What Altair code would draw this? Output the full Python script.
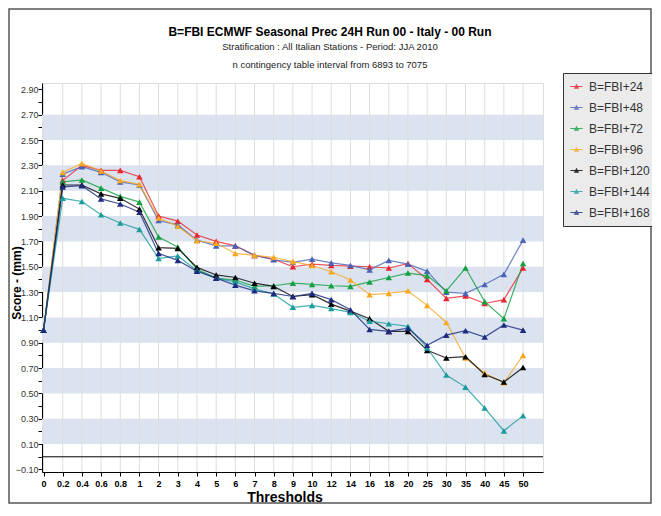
import altair as alt
import pandas as pd

THRESHOLDS = ["0", "0.2", "0.4", "0.6", "0.8", "1", "2", "3", "4", "5", "6", "7", "8",
              "9", "10", "12", "14", "16", "18", "20", "25", "30", "35", "40", "45", "50"]

SERIES = ["B=FBI+24", "B=FBI+48", "B=FBI+72", "B=FBI+96", "B=FBI+120", "B=FBI+144", "B=FBI+168"]
COLORS = ["#e8262d", "#4a63b5", "#12a040", "#f7a823", "#000000", "#1a9c9c", "#1c2a80"]

FBI24 = [1.00, 2.18, 2.30, 2.26, 2.26, 2.21, 1.90, 1.86, 1.75, 1.70, 1.665, 1.59, 1.56,
         1.50, 1.52, 1.51, 1.505, 1.50, 1.49, 1.525, 1.40, 1.25, 1.27, 1.21, 1.24, 1.49]
FBI48 = [1.00, 2.23, 2.29, 2.245, 2.17, 2.145, 1.865, 1.83, 1.71, 1.665, 1.665, 1.59, 1.555,
         1.535, 1.56, 1.53, 1.51, 1.475, 1.55, 1.52, 1.465, 1.30, 1.29, 1.36, 1.44, 1.71]
FBI72 = [1.00, 2.17, 2.185, 2.12, 2.055, 2.01, 1.735, 1.655, 1.48, 1.41, 1.395, 1.345, 1.35,
         1.37, 1.36, 1.35, 1.345, 1.38, 1.415, 1.45, 1.43, 1.31, 1.49, 1.225, 1.09, 1.525]
FBI96 = [1.00, 2.245, 2.315, 2.255, 2.18, 2.15, 1.885, 1.82, 1.705, 1.685, 1.605, 1.59, 1.575,
         1.54, 1.51, 1.46, 1.395, 1.28, 1.29, 1.31, 1.195, 1.06, 0.78, 0.66, 0.585, 0.80]
FBI120 = [1.00, 2.145, 2.145, 2.075, 2.04, 1.955, 1.65, 1.645, 1.495, 1.435, 1.415, 1.37, 1.345,
          1.265, 1.28, 1.205, 1.15, 1.09, 0.99, 0.99, 0.84, 0.78, 0.79, 0.65, 0.59, 0.705]
FBI144 = [1.00, 2.04, 2.015, 1.91, 1.845, 1.795, 1.565, 1.585, 1.47, 1.41, 1.38, 1.325, 1.285,
          1.18, 1.195, 1.17, 1.14, 1.07, 1.05, 1.03, 0.86, 0.645, 0.55, 0.385, 0.205, 0.325]
FBI168 = [1.00, 2.13, 2.14, 2.035, 1.995, 1.93, 1.605, 1.55, 1.465, 1.41, 1.355, 1.31, 1.29,
          1.265, 1.29, 1.24, 1.16, 1.005, 0.99, 1.015, 0.88, 0.96, 0.995, 0.945, 1.04, 1.00]

BAND_LO = [0.1, 0.5, 0.9, 1.3, 1.7, 2.1, 2.5]

TITLE = "B=FBI  ECMWF Seasonal Prec 24H Run 00 - Italy - 00 Run"
SUBTITLE_1 = "Stratification : All Italian Stations - Period: JJA 2010"
SUBTITLE_2 = "n contingency table interval from 6893 to 7075"
Y_TITLE = "Score - (mm)"
X_TITLE = "Thresholds"

rows = []
for name, vals in zip(SERIES, [FBI24, FBI48, FBI72, FBI96, FBI120, FBI144, FBI168]):
    for i, (t, v) in enumerate(zip(THRESHOLDS, vals)):
        rows.append({"series": name, "idx": i, "threshold": t, "value": v})
df = pd.DataFrame(rows)

band_df = pd.DataFrame({"lo": BAND_LO, "hi": [round(b + 0.2, 2) for b in BAND_LO]})
grid_df = pd.DataFrame({"idx": list(range(len(THRESHOLDS)))})
zero_df = pd.DataFrame({"z": [0.0]})
one_df = pd.DataFrame({"a": [0]})

W, H = 501, 389
PAD_L, PAD_T, PAD_R, PAD_B = 34, 75, 109, 32
NARROW = "Liberation Sans Narrow, Liberation Sans, Arial, sans-serif"
SANS = "Liberation Sans, Arial, sans-serif"

x_scale = alt.Scale(domain=[-0.08, 26.04], nice=False, zero=False)
y_scale = alt.Scale(domain=[-0.12, 2.95], nice=False, zero=False)

label_expr = "[" + ",".join("'%s'" % t for t in THRESHOLDS) + "][datum.value]"
y_values = [round(-0.1 + 0.1 * k, 2) for k in range(31)]

x_axis = alt.Axis(values=list(range(len(THRESHOLDS))), labelExpr=label_expr, title=None,
                  grid=False, domainColor="#000000", tickColor="#000000", tickSize=4,
                  labelFont=NARROW, labelFontWeight="bold", labelFontSize=9, labelColor="#000000",
                  labelPadding=3, labelAlign="center", labelOverlap=False)
y_axis = alt.Axis(values=y_values,
                  labelExpr="abs(round(datum.value*10))%2==1 ? format(datum.value,'.2f') : ''",
                  title=None, grid=False, domainColor="#000000", tickColor="#000000",
                  tickSize=4, labelFont=SANS, labelFontSize=9, labelColor="#333333",
                  labelPadding=0, labelOverlap=False)


def xenc(field):
    return alt.X(field, type="quantitative", scale=x_scale, axis=x_axis)


def yenc(field):
    return alt.Y(field, type="quantitative", scale=y_scale, axis=y_axis)


color_scale = alt.Scale(domain=SERIES, range=COLORS)

legend = alt.Legend(title=None, orient="none", legendX=521, legendY=-10,
                    fillColor="#ebebeb", strokeColor="#333333", padding=7,
                    symbolType="M-1,-0.07H1V0.07H-1Z M-0.45,0.38L0,-0.45L0.45,0.38Z",
                    symbolSize=150, symbolStrokeWidth=0, labelFont=SANS, labelFontSize=12,
                    labelColor="#333333", rowPadding=8, labelOffset=6)
color = alt.Color("series:N", scale=color_scale, sort=SERIES, legend=legend)

bands = alt.Chart(band_df).mark_rect(color="#dbe3f1").encode(
    x=alt.value(0), x2=alt.value(W), y=yenc("lo"), y2="hi:Q")

vgrid = alt.Chart(grid_df).mark_rule(color="#dddddd", strokeWidth=1).encode(x=xenc("idx"))

zero = alt.Chart(zero_df).mark_rule(color="#000000", strokeWidth=1).encode(y=yenc("z"))

lines = alt.Chart(df).mark_line(strokeWidth=1.2, opacity=0.8).encode(
    x=xenc("idx"), y=yenc("value"), color=color, detail="series:N")

points = alt.Chart(df).mark_point(filled=True, shape="triangle-up", size=42, opacity=1).encode(
    x=xenc("idx"), y=yenc("value"), color=color)

frame = alt.Chart(one_df).mark_rect(fillOpacity=0, stroke="#555555", strokeWidth=1.5).encode(
    x=alt.value(-PAD_L + 1), x2=alt.value(W + PAD_R - 1),
    y=alt.value(-PAD_T + 1), y2=alt.value(H + PAD_B - 1))


def text_layer(txt, x, y, size, weight="normal", font=SANS, color="#000000", angle=0,
               baseline="middle"):
    return alt.Chart(pd.DataFrame({"t": [txt]})).mark_text(
        font=font, fontSize=size, fontWeight=weight, color=color, align="center",
        baseline=baseline, angle=angle).encode(
        text="t:N", x=alt.value(x), y=alt.value(y))


title_main = text_layer(TITLE, 288, -51, 12, "bold")
title_sub1 = text_layer(SUBTITLE_1, 288, -36, 9.5, font=NARROW, color="#222222")
title_sub2 = text_layer(SUBTITLE_2, 288, -18, 9.5, font=NARROW, color="#222222")
y_title = text_layer(Y_TITLE, -25, 200, 12, "bold", angle=270)
x_title = text_layer(X_TITLE, 243, H + 30, 14, "bold", baseline="alphabetic")

chart = alt.layer(bands, vgrid, zero, lines, points, frame,
                  title_main, title_sub1, title_sub2, y_title, x_title).properties(
    width=W, height=H,
    autosize=alt.AutoSizeParams(type="none"),
    padding={"left": PAD_L, "top": PAD_T, "right": PAD_R, "bottom": PAD_B},
).configure_view(fill="#f7f7f7", stroke="#cccccc").configure(background="#ffffff")

chart.save("out.html", embed_options={"renderer": "svg", "actions": False})
